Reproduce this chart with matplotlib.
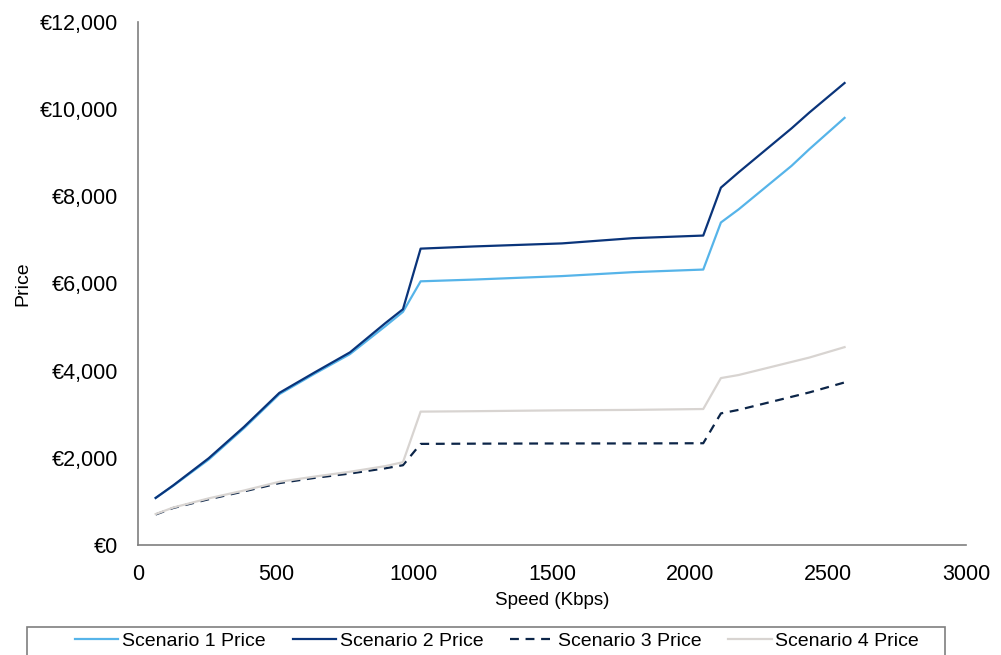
import matplotlib
matplotlib.use("Agg")
import matplotlib.pyplot as plt
from matplotlib.ticker import FuncFormatter
from matplotlib.patches import Rectangle

plt.rcParams['font.family'] = ['Liberation Sans', 'DejaVu Sans']

speed = [64, 128, 256, 384, 512, 640, 768, 896, 960, 1024, 1216, 1536, 1792, 2048, 2112, 2176, 2368, 2432, 2560]
s1 = [1080, 1360, 1960, 2680, 3460, 3930, 4380, 5020, 5350, 6050, 6090, 6170, 6260, 6320, 7400, 7700, 8700, 9080, 9800]
s2 = [1080, 1370, 1990, 2710, 3490, 3960, 4420, 5090, 5410, 6800, 6850, 6920, 7040, 7100, 8200, 8550, 9560, 9920, 10600]
s3 = [700, 850, 1050, 1230, 1420, 1540, 1640, 1760, 1830, 2320, 2325, 2330, 2330, 2335, 3020, 3100, 3400, 3500, 3730]
s4 = [710, 860, 1070, 1250, 1450, 1570, 1680, 1810, 1900, 3060, 3070, 3090, 3100, 3120, 3830, 3900, 4200, 4300, 4540]
labels = ['Scenario 1 Price', 'Scenario 2 Price', 'Scenario 3 Price', 'Scenario 4 Price']

fig = plt.figure(figsize=(10.01, 6.55), dpi=100)
ax = fig.add_axes([138/1001, 110/655, (966-138)/1001, (545-22)/655])

ax.plot(speed, s1, color='#56B4E9', lw=1.6, label=labels[0])
ax.plot(speed, s2, color='#0A347A', lw=1.6, label=labels[1])
ax.plot(speed, s3, color='#0C2548', lw=1.6, ls=(0, (4, 3)), label=labels[2])
ax.plot(speed, s4, color='#D8D4D1', lw=1.6, label=labels[3])

ax.set_xlim(0, 3000)
ax.set_ylim(0, 12000)
ax.set_xticks(range(0, 3001, 500))
ax.set_yticks(range(0, 12001, 2000))
ax.yaxis.set_major_formatter(FuncFormatter(lambda v, p: '€{:,.0f}'.format(v)))
ax.tick_params(length=0, labelsize=15.5, colors='#000000')
ax.tick_params(axis='y', pad=14.5)
ax.tick_params(axis='x', pad=14)
for s in ['top', 'right']:
    ax.spines[s].set_visible(False)
for s in ['left', 'bottom']:
    ax.spines[s].set_color('#7f7f7f')
    ax.spines[s].set_linewidth(1.2)

ax.set_xlabel('Speed (Kbps)', fontsize=13.5, labelpad=5)
ax.set_ylabel('Price', fontsize=14, labelpad=6)

fig.patches.append(Rectangle((27/1001, -2/655), (945-27)/1001, (655-627+2)/655,
                             transform=fig.transFigure, fill=False,
                             edgecolor='#7f7f7f', linewidth=1.2))
leg = fig.legend(loc='center', bbox_to_anchor=(497/1001, 1 - 641/655), ncol=4,
                 fontsize=14, frameon=False, handlelength=2.24,
                 handletextpad=0.2, columnspacing=1.37, borderpad=0.0)

fig.savefig('out.png', dpi=100)
